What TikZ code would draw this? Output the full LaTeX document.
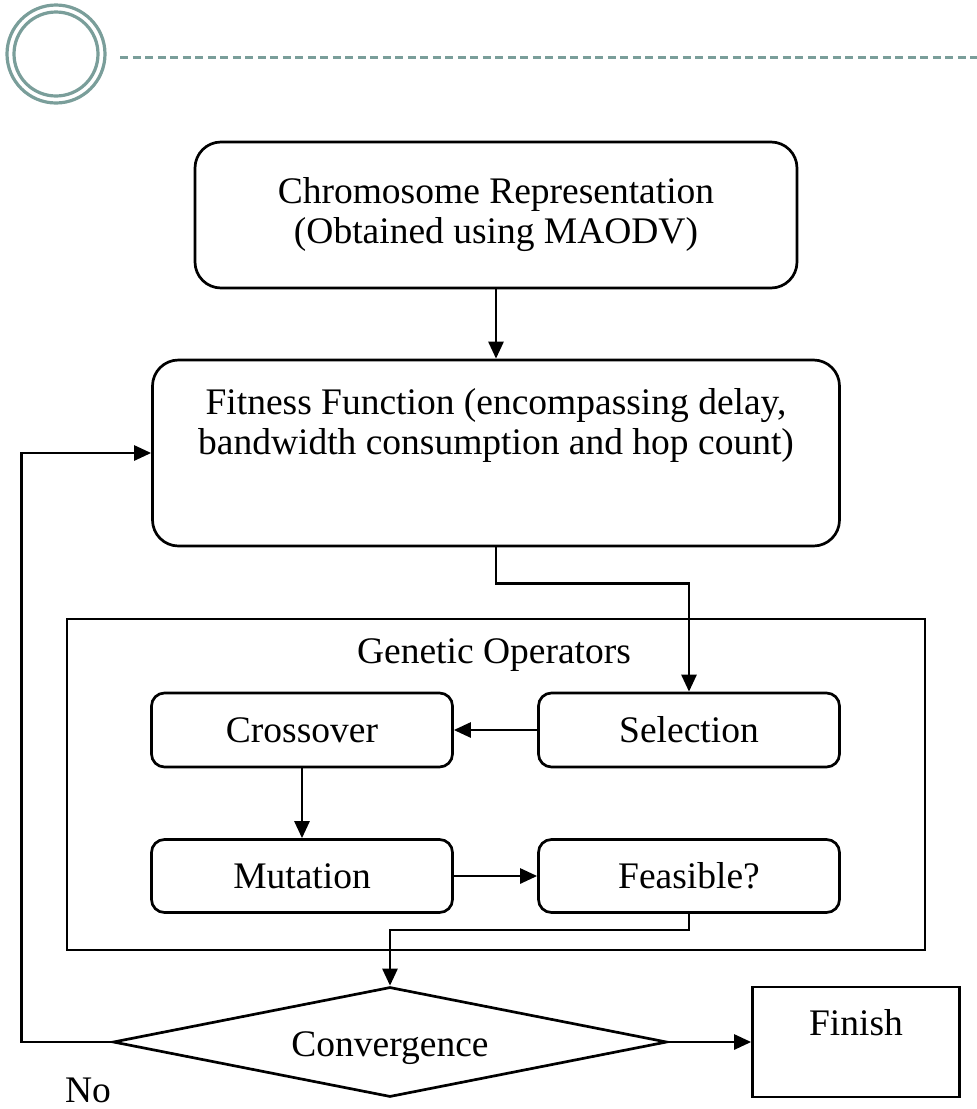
\documentclass[tikz,border=0pt]{standalone}
\usepackage{fontspec}
\setmainfont{Liberation Serif}
\usetikzlibrary{shapes.geometric,arrows.meta}
\definecolor{ringgray}{RGB}{122,158,154}

\begin{document}
\begin{tikzpicture}[x=1pt,y=-1pt,
	font=\fontsize{37.5}{40}\selectfont,
	bigbox/.style={draw=black,line width=2.7pt,rounded corners=26pt,inner sep=0pt},
	opbox/.style={draw=black,line width=2.7pt,rounded corners=13pt,inner sep=0pt,minimum width=301pt,minimum height=74pt},
	flow/.style={->,>={Triangle[length=17pt,width=15pt]},draw=black,line width=2.7pt}]

	\useasboundingbox (0,0) rectangle (977,1109);

	% header ring and rule
	\draw[ringgray,line width=3.2pt] (56,54) circle (49pt);
	\draw[ringgray,line width=3.2pt] (56,54) circle (42pt);
	\draw[ringgray,line width=3pt,dash pattern=on 8pt off 4.5pt] (120,57) -- (977,57);

	\node[bigbox,align=center,minimum width=602pt,minimum height=146pt] (chrom) at (496,215) {Chromosome Representation\\(Obtained using MAODV)};
	\node[bigbox,minimum width=687pt,minimum height=186pt] (fit) at (496,453) {};
	\node[align=center] (fittext) at (496,425) {Fitness Function (encompassing delay,\\bandwidth consumption and hop count)};

	\draw[black,line width=2.7pt] (67,619) rectangle (925,950);
	\node (genop) at (494,655) {Genetic Operators};

	\node[opbox] (cross) at (302,730) {Crossover};
	\node[opbox] (sel) at (689,730) {Selection};
	\node[opbox,minimum height=73pt] (mut) at (302,876) {Mutation};
	\node[opbox,minimum height=73pt] (feas) at (689,876) {Feasible?};

	\node[diamond,draw=black,line width=2.7pt,inner sep=0pt,aspect=5,minimum width=554pt,minimum height=110pt] (conv) at (390,1042) {};
	\node (convtext) at (390,1048) {Convergence};
	\node[draw=black,line width=2.7pt,minimum width=207pt,minimum height=110pt] (fin) at (856,1042) {};
	\node (fintext) at (856,1023) {Finish};
	\node (no) at (88,1090) {No};

	\path[flow] (chrom) -- (fit);
	\path[flow] (fit.south) -- ++(0,36) -| (sel.north);
	\path[flow] (sel) -- (cross);
	\path[flow] (cross) -- (mut);
	\path[flow] (mut) -- (feas);
	\path[flow] (feas.south) -- ++(0,16) -| (conv.north);
	\path[flow] (conv.west) -- ++(-90,0) |- (fit.west);
	\path[flow] (conv.east) -- (fin.west);

\end{tikzpicture}
\end{document}
